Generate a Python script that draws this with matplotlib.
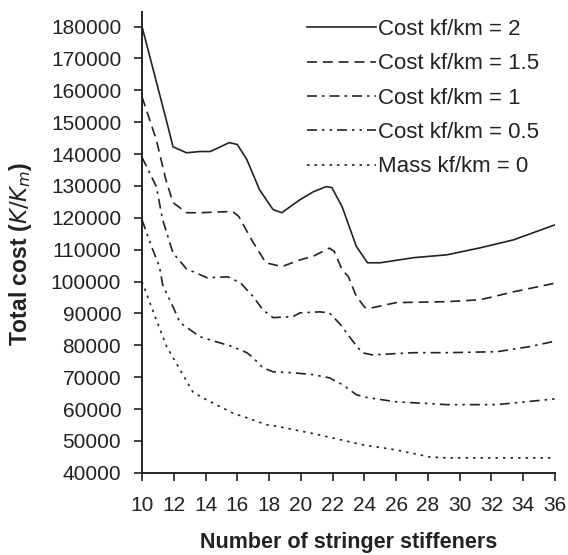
import matplotlib
matplotlib.use("Agg")
import matplotlib.pyplot as plt

plt.rcParams['font.family'] = ['Liberation Sans', 'DejaVu Sans']

# Cost kf/km = 2
x_c2 = [10, 11.57, 11.95, 12.8, 13.65, 14.3, 15.5, 16, 16.6, 17.4, 18.25, 18.8, 19.95,
        20.8, 21.6, 21.95, 22.6, 23.5, 24.2, 25, 27.1, 29.2, 31.3, 33.4, 36]
y_c2 = [180000, 149900, 142300, 140400, 140800, 140800, 143600, 143000, 138300, 128800,
        122600, 121600, 125700, 128200, 129800, 129500, 123500, 111000, 105900, 105900,
        107500, 108400, 110600, 113100, 117800]

# Cost kf/km = 1.5
x_c15 = [10, 10.9, 11.5, 11.95, 12.8, 13.65, 15.7, 16.1, 16.9, 17.8, 18.8, 19.95, 20.8,
         21.8, 22.1, 22.6, 23, 23.5, 24.05, 24.5, 26, 29.2, 31.3, 33.4, 36]
y_c15 = [158000, 144500, 132000, 124800, 121600, 121600, 122000, 120400, 113100, 105900,
         104700, 106800, 108000, 110500, 109500, 103700, 101500, 95300, 91800, 91800,
         93400, 93700, 94300, 96800, 99500]

# Cost kf/km = 1
x_c1 = [10, 10.9, 11.3, 11.95, 12.8, 14.1, 15.4, 16.2, 17, 17.6, 18.25, 19.5, 19.95, 21.2,
        21.8, 22.5, 23.2, 23.85, 24.5, 27.1, 29.2, 32.35, 34.4, 36]
y_c1 = [139000, 129800, 119400, 109000, 104000, 101200, 101500, 99600, 95300, 91200,
        88700, 89000, 90200, 90500, 90200, 86500, 81800, 77700, 77000, 77700, 77700,
        78000, 79600, 81300]

# Cost kf/km = 0.5
x_c05 = [10, 10.6, 11.1, 11.3, 11.95, 12.4, 13.65, 14.7, 15.7, 16.6, 17, 17.6, 18.25,
         19.5, 20.8, 21.8, 22.65, 23.5, 24.2, 26, 29.2, 32.35, 36]
y_c05 = [119400, 111000, 104700, 99000, 92100, 87100, 82700, 81100, 79600, 77700, 76100,
         73000, 71700, 71400, 70800, 69800, 67600, 64500, 63600, 62300, 61400, 61400, 63200]

# Mass kf/km = 0
x_m0 = [10, 10.3, 10.9, 11.55, 12.4, 13.2, 13.8, 15.7, 17.85, 18.7, 20.8, 23.9, 26, 28.1,
        29.2, 36]
y_m0 = [100000, 96000, 88000, 79600, 72300, 65400, 63600, 58800, 55100, 54400, 52300,
        48800, 47200, 45000, 44700, 44700]

labels = ['Cost kf/km = 2', 'Cost kf/km = 1.5', 'Cost kf/km = 1',
          'Cost kf/km = 0.5', 'Mass kf/km = 0']
x_ticks = list(range(10, 37, 2))
y_ticks = list(range(40000, 180001, 10000))

fig = plt.figure(figsize=(5.68, 5.55), dpi=100)
ax = fig.add_axes([0.25, 0.148, 0.727, 0.83])

lw = 1.2
ax.plot(x_c2, y_c2, color='#222222', lw=lw, ls='-', label=labels[0])
ax.plot(x_c15, y_c15, color='#222222', lw=lw, ls=(0, (6, 3.5)), label=labels[1])
ax.plot(x_c1, y_c1, color='#222222', lw=lw, ls=(0, (6, 3, 1.5, 3)), label=labels[2])
ax.plot(x_c05, y_c05, color='#222222', lw=lw, ls=(0, (6, 3, 1.5, 3, 1.5, 3)), label=labels[3])
ax.plot(x_m0, y_m0, color='#222222', lw=lw, ls=(0, (1.5, 3)), label=labels[4])

ax.set_xlim(10, 36)
ax.set_ylim(40000, 184500)
ax.set_xticks(x_ticks)
ax.set_yticks(y_ticks)
ax.set_xticklabels([str(t) for t in x_ticks])
ax.set_yticklabels([str(t) for t in y_ticks])
ax.tick_params(axis='both', labelsize=15, width=1.2, length=6, direction='out',
               colors='#222222')
ax.tick_params(axis='x', pad=11)
ax.tick_params(axis='y', pad=9)
ax.spines['top'].set_visible(False)
ax.spines['right'].set_visible(False)
for s in ['left', 'bottom']:
    ax.spines[s].set_linewidth(1.4)
    ax.spines[s].set_color('#222222')

ax.set_xlabel('Number of stringer stiffeners', fontsize=15.5, fontweight='bold',
              labelpad=12, color='#222222')
ax.set_ylabel(r'Total cost ($K/K_m$)', fontsize=16.5, fontweight='bold', color='#222222')
ax.yaxis.set_label_coords(-0.262, 0.475)

leg = ax.legend(loc='upper left', bbox_to_anchor=(0.4, 0.985), frameon=False,
                fontsize=16, handlelength=3.1, handletextpad=0.1, labelspacing=0.6,
                borderaxespad=0, borderpad=0)
for t in leg.get_texts():
    t.set_color('#222222')

fig.savefig('out.png', dpi=100)
